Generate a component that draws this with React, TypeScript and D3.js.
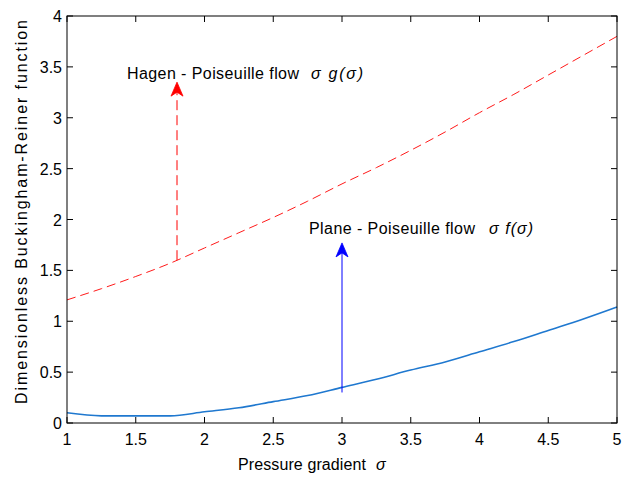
import React from "react";
import * as d3 from "d3";

// pressure gradient sigma
const sigma = [1, 1.25, 1.5, 1.75, 2, 2.25, 2.5, 2.75, 3, 3.25, 3.5, 3.75, 4, 4.25, 4.5, 4.75, 5];
// Hagen-Poiseuille (red dashed)
const hagen = [1.21, 1.32, 1.44, 1.57, 1.72, 1.87, 2.02, 2.18, 2.35, 2.51, 2.68, 2.86, 3.05, 3.23, 3.42, 3.61, 3.8];
// Plane-Poiseuille (blue)
const plane = [0.1, 0.07, 0.07, 0.07, 0.11, 0.15, 0.21, 0.27, 0.35, 0.43, 0.52, 0.6, 0.7, 0.8, 0.91, 1.02, 1.14];

const xTicks = [1, 1.5, 2, 2.5, 3, 3.5, 4, 4.5, 5];
const yTicks = [0, 0.5, 1, 1.5, 2, 2.5, 3, 3.5, 4];

// annotation arrows: [x, yFrom, yTo]
const redArrow = [1.8, 1.6, 3.35];
const blueArrow = [3, 0.3, 1.77];

const W = 632, H = 477;
const margin = { top: 16, right: 15, bottom: 54, left: 67 };
const font = "'Liberation Sans', Arial, sans-serif";

function Arrow({ x, y1, y2, color, dash }: { x: number; y1: number; y2: number; color: string; dash?: string }) {
  const head = `M${x},${y2} L${x + 6},${y2 + 14} L${x},${y2 + 10} L${x - 6},${y2 + 14} Z`;
  return (
    <g>
      <line x1={x} x2={x} y1={y1} y2={y2 + 10} stroke={color} strokeWidth={1} strokeDasharray={dash} />
      <path d={head} fill={color} stroke={color} strokeWidth={0.8} />
    </g>
  );
}

export default function App() {
  const w = W - margin.left - margin.right;
  const h = H - margin.top - margin.bottom;
  const x = d3.scaleLinear().domain([1, 5]).range([0, w]);
  const y = d3.scaleLinear().domain([0, 4]).range([h, 0]);

  const line = d3.line<number>().x((_, i) => x(sigma[i])).curve(d3.curveMonotoneX);
  const redPath = line.y((d) => y(d))(hagen) || "";
  const bluePath = line.y((d) => y(d))(plane) || "";

  return (
    <svg width={W} height={H} style={{ position: "absolute", left: 0, top: 0, background: "#fff" }} fontFamily={font}>
      <g transform={`translate(${margin.left},${margin.top})`}>
        <path d={redPath} fill="none" stroke="#ff1a1a" strokeWidth={1} strokeDasharray="9,5" />
        <path d={bluePath} fill="none" stroke="#1f78cf" strokeWidth={1.6} />

        <Arrow x={x(redArrow[0])} y1={y(redArrow[1])} y2={y(redArrow[2])} color="#ff0000" dash="10,5" />
        <Arrow x={x(blueArrow[0])} y1={y(blueArrow[1])} y2={y(blueArrow[2])} color="#0000ff" />

        {/* frame */}
        <rect x={0} y={0} width={w} height={h} fill="none" stroke="#000" strokeWidth={1} />
        {xTicks.map((t) => (
          <g key={"x" + t}>
            <line x1={x(t)} x2={x(t)} y1={h} y2={h - 6} stroke="#000" />
            <line x1={x(t)} x2={x(t)} y1={0} y2={6} stroke="#000" />
            <text x={x(t)} y={h + 22} textAnchor="middle" fontSize={16} fill="#000">{t}</text>
          </g>
        ))}
        {yTicks.map((t) => (
          <g key={"y" + t}>
            <line x1={0} x2={6} y1={y(t)} y2={y(t)} stroke="#000" />
            <line x1={w} x2={w - 6} y1={y(t)} y2={y(t)} stroke="#000" />
            <text x={-5} y={y(t) + 6} textAnchor="end" fontSize={16} fill="#000">{t}</text>
          </g>
        ))}
      </g>

      <g fontSize={16} fill="#000">
        <text x={127} y={79} textLength={172} lengthAdjust="spacing">Hagen - Poiseuille flow</text>
        <text x={311} y={79} textLength={52} lengthAdjust="spacing" fontStyle="italic">σ g(σ)</text>
        <text x={309} y={234} textLength={166} lengthAdjust="spacing">Plane - Poiseuille flow</text>
        <text x={489} y={234} textLength={44} lengthAdjust="spacing" fontStyle="italic">σ f(σ)</text>

        <text x={238} y={470} textLength={128} lengthAdjust="spacing">Pressure gradient</text>
        <text x={376} y={470} fontStyle="italic">σ</text>
        <text transform={`translate(27,212) rotate(-90)`} textAnchor="middle" textLength={384} lengthAdjust="spacing">
          Dimensionless Buckingham-Reiner function
        </text>
      </g>
    </svg>
  );
}
